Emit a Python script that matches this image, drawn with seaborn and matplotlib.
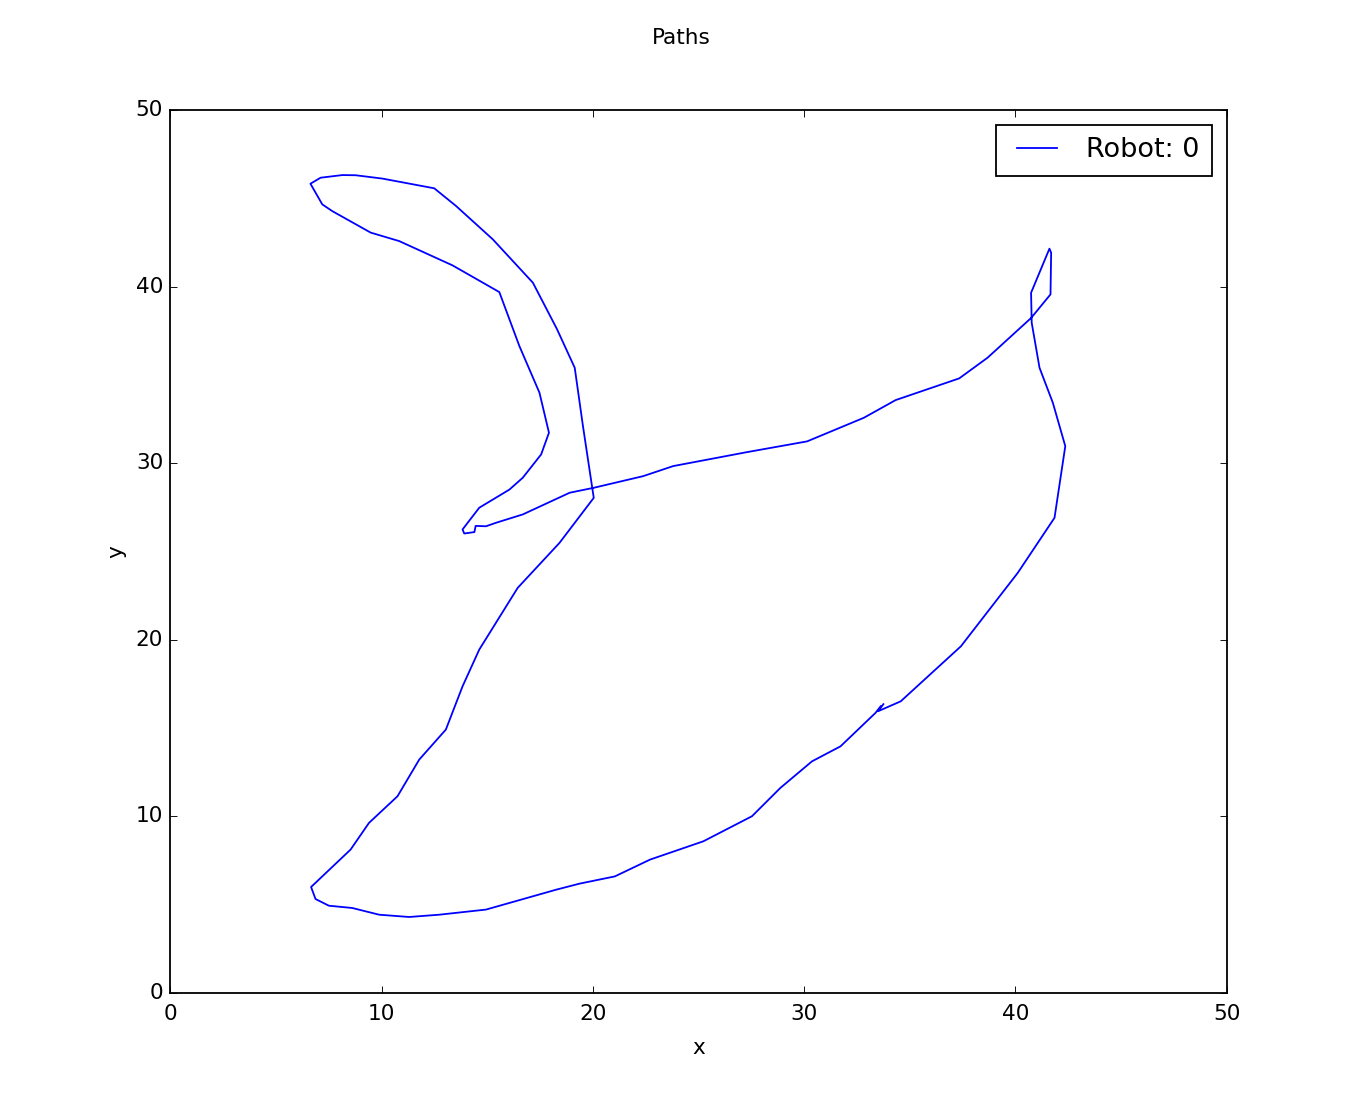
import numpy as np
import pandas as pd
import matplotlib
matplotlib.use("Agg")
import matplotlib.pyplot as plt
import seaborn as sns

# Robot path (in drawing order)
path_x = [33.62, 33.38, 31.72, 30.37, 28.87, 27.53, 25.23, 22.70, 21.04, 19.37,
          18.27, 14.94, 12.73, 11.30, 9.88, 8.61, 7.50, 6.87, 6.66, 7.19,
          8.53, 9.40, 10.75, 11.78, 13.04, 13.83, 14.62, 16.44, 18.42, 20.04,
          19.53, 19.14, 18.30, 17.16, 15.26, 13.52, 12.49, 10.04, 8.77, 8.14,
          7.11, 6.63, 7.19, 7.66, 9.48, 10.83, 13.36, 15.57, 16.52, 17.47,
          17.92, 17.55, 16.68, 16.05, 14.62, 13.83, 13.91, 14.39, 14.45, 14.94,
          15.42, 16.68, 18.90, 20.04, 22.38, 23.80, 27.29, 30.14, 32.83, 34.33,
          37.34, 38.68, 40.74, 41.66, 41.69, 41.61, 40.74, 40.77, 41.14, 41.77,
          42.36, 41.85, 40.11, 37.42, 34.57, 33.50, 33.75]
path_y = [16.23, 15.86, 13.96, 13.11, 11.60, 10.00, 8.58, 7.54, 6.59, 6.18,
          5.84, 4.71, 4.42, 4.29, 4.42, 4.80, 4.93, 5.31, 5.99, 6.59,
          8.11, 9.62, 11.13, 13.21, 14.91, 17.36, 19.44, 22.94, 25.49, 28.04,
          32.10, 35.41, 37.60, 40.23, 42.69, 44.58, 45.58, 46.13, 46.32, 46.33,
          46.18, 45.84, 44.67, 44.29, 43.07, 42.59, 41.21, 39.70, 36.64, 34.00,
          31.73, 30.50, 29.18, 28.51, 27.48, 26.25, 26.02, 26.10, 26.45, 26.43,
          26.63, 27.10, 28.33, 28.61, 29.27, 29.84, 30.63, 31.24, 32.58, 33.58,
          34.81, 35.98, 38.23, 39.57, 41.93, 42.16, 39.66, 37.96, 35.41, 33.43,
          30.97, 26.91, 23.79, 19.63, 16.51, 15.95, 16.35]

robot_label = "Robot: 0"

plt.style.use("classic")

df = pd.DataFrame({"x": path_x, "y": path_y})

fig = plt.figure(figsize=(1363 / 130, 1103 / 130), dpi=130, facecolor="white")
ax = fig.add_subplot(111)
sns.lineplot(data=df, x="x", y="y", sort=False, estimator=None,
             color="b", linewidth=1.0, label=robot_label, ax=ax)

ax.set_xlim(0, 50)
ax.set_ylim(0, 50)
ax.tick_params(axis="x", pad=6)
ax.set_xlabel("x", labelpad=8)
ax.set_ylabel("y")
ax.legend(loc="upper right", fontsize=15, handlelength=2.1,
          handletextpad=0.77, borderpad=0.45, borderaxespad=0.55)
fig.suptitle("Paths", y=0.975)

fig.savefig("out.png", dpi=130, facecolor="white")
